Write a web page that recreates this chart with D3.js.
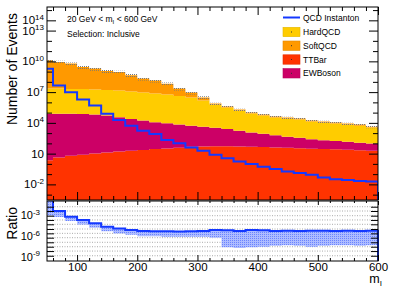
<!DOCTYPE html>
<html>
<head>
<meta charset="utf-8">
<script src="https://cdn.jsdelivr.net/npm/d3@7/dist/d3.min.js"></script>
<style>
body { margin: 0; background: #fff; }
svg text { font-family: "Liberation Sans", Arial, Helvetica, sans-serif; fill: #000; }
</style>
</head>
<body>
<svg width="398" height="287"></svg>
<script>
// 20 GeV bins, lower edges (axis starts at 50 so first bin is cut)
var binLow = [40,60,80,100,120,140,160,180,200,220,240,260,280,300,320,340,360,380,400,420,440,460,480,500,520,540,560,580];
var binWidth = 20;

var ttbar = [2.3,4.2,6.2,7.8,10.5,12.9,16.2,19,22.4,28,32,37,47,50,52,52,50,47,44,40,37,33,30,28,26,24,21,19];
var ewboson = [75900,75900,75900,72400,64600,51300,35500,24500,16600,11200,9120,6760,5320,4220,3340,2520,1690,1130,847,591,410,322,227,176,144,121,94,79];
var hardqcd = [2.28e7,2.28e7,2.03e7,2.03e7,1.81e7,1.62e7,1.45e7,1.15e7,9.33e6,7.41e6,5.89e6,4.17e6,3.02e6,1.51e6,6.14e5,3.14e5,1.57e5,8.01e4,5.04e4,3.25e4,2.59e4,2.05e4,1.32e4,1.05e4,8340,6620,5260,3370];
var softqcd = [1.26e10,8.71e9,6.03e9,2.82e9,1.95e9,1.15e9,9.12e8,4.27e8,2.04e8,1.31e8,6.0e7,1.87e7,6.3e6,1.5e6,1.59e5,7.3e4,4.1e4,2.1e4,1.33e4,7600,6800,5400,3100,2800,2200,1750,1390,800];
var instanton = [1.95e9,4.47e7,9.77e6,1.91e6,4.9e5,7.59e4,1.95e4,5370,1740,832,214,100,39.8,19.1,7.76,3.63,1.70,0.955,0.513,0.309,0.178,0.126,0.0851,0.0457,0.0324,0.0275,0.0219,0.0186];
var bkgRelErr = [0.3,0.3,0.3,0.3,0.3,0.3,0.3,0.3,0.3,0.3,0.3,0.3,0.3,0.3,0.2,0.2,0.2,0.2,0.2,0.2,0.2,0.2,0.2,0.2,0.2,0.2,0.2,0.2];

// ratio panel: instanton / background and lower edge of its band
var ratio = [0.16,4.6e-3,6.6e-4,2.2e-4,7.2e-5,2.3e-5,1.35e-5,7.6e-6,5.4e-6,5.0e-6,5.0e-6,4.8e-6,5.0e-6,5.6e-6,7.9e-6,7.1e-6,5.6e-6,7.9e-6,7.1e-6,5.6e-6,6.3e-6,5.6e-6,6.3e-6,6.3e-6,5.6e-6,6.3e-6,5.6e-6,6.3e-6];
var ratioLow = [1e-3,6e-4,1.6e-4,5e-5,1.6e-5,5e-6,2.5e-6,1.6e-6,1e-6,1e-6,8e-7,8e-7,8e-7,8e-7,6e-7,2.5e-8,2e-8,2.5e-8,3e-8,4e-8,5e-8,4e-8,3e-8,4e-8,5e-8,5e-8,4e-8,5e-8];

var xMajor = [100,200,300,400,500,600];
var yLabelExp = [-2,1,4,7,10,13,14];
var ratioLabelExp = [-9,-6,-3];
var ratioGridExp = [-1.73,-2.35,-3.03,-3.65,-4.28,-4.96,-5.59,-6.22,-6.89,-7.53,-8.16,-8.84];

var stackKeys = ["TTBar","EWBoson","HardQCD","SoftQCD"];
var legendNames = ["HardQCD","SoftQCD","TTBar","EWBoson"];
var colors = {HardQCD:"#ffcc00", SoftQCD:"#ff9900", TTBar:"#ff3300", EWBoson:"#cc0066"};
var blue = "#1438ff";

var left = 47, right = 378, top1 = 7, bot1 = 200, top2 = 201, bot2 = 261;
var svg = d3.select("svg");

var x = d3.scaleLinear().domain([50, 600]).range([left, right]);
var y = d3.scaleLog().domain([3e-4, 2e15]).range([bot1, top1]);
var yr = d3.scaleLog().domain([Math.pow(10,-9.6), Math.pow(10,-0.9)]).range([bot2, top2]);

var defs = svg.append("defs");
defs.append("clipPath").attr("id","clipTop").append("rect")
	.attr("x",left).attr("y",top1).attr("width",right-left).attr("height",bot1-top1);
defs.append("clipPath").attr("id","clipRatio").append("rect")
	.attr("x",left).attr("y",top2).attr("width",right-left+1).attr("height",bot2-top2);
var hatch = defs.append("pattern").attr("id","hatch")
	.attr("patternUnits","userSpaceOnUse").attr("width",2).attr("height",2);
hatch.append("rect").attr("width",1).attr("height",1).attr("fill","#777");
var bandPat = defs.append("pattern").attr("id","bandPat")
	.attr("patternUnits","userSpaceOnUse").attr("width",2).attr("height",2);
bandPat.append("rect").attr("width",2).attr("height",2).attr("fill","#aebcff");
bandPat.append("rect").attr("width",1).attr("height",1).attr("fill","#6a84ff");

function steps(vals, lo) {
	var pts = [];
	vals.forEach(function(v, i) {
		var l = lo ? lo[i] : 1e-30;
		pts.push({x: binLow[i], v: v, l: l});
		pts.push({x: binLow[i] + binWidth, v: v, l: l});
	});
	return pts;
}
function yc(v) { return y(Math.max(v, 1e-5)); }
function yrc(v) { return yr(Math.max(v, 1e-12)); }

// ---- top panel
var rows = binLow.map(function(b, i) {
	return {TTBar: ttbar[i], EWBoson: ewboson[i], HardQCD: hardqcd[i], SoftQCD: softqcd[i]};
});
var layers = d3.stack().keys(stackKeys)(rows);

var gTop = svg.append("g").attr("clip-path","url(#clipTop)");
var area = d3.area()
	.x(function(d) { return x(d.x); })
	.y0(function(d) { return yc(d.l); })
	.y1(function(d) { return yc(d.v); });

layers.forEach(function(layer) {
	var pts = [];
	layer.forEach(function(d, i) {
		pts.push({x: binLow[i], l: d[0], v: d[1]});
		pts.push({x: binLow[i] + binWidth, l: d[0], v: d[1]});
	});
	gTop.append("path").attr("d", area(pts)).attr("fill", colors[layer.key]).attr("stroke","none");
});

var total = rows.map(function(r) { return r.TTBar + r.EWBoson + r.HardQCD + r.SoftQCD; });
var errPts = [];
total.forEach(function(t, i) {
	var lo = t / (1 + bkgRelErr[i] * 2), hi = t * (1 + bkgRelErr[i]);
	errPts.push({x: binLow[i], l: lo, v: hi});
	errPts.push({x: binLow[i] + binWidth, l: lo, v: hi});
});
gTop.append("path").attr("d", area(errPts)).attr("fill","url(#hatch)");

var line = d3.line().x(function(d) { return x(d.x); }).y(function(d) { return yc(d.v); });
var instPts = steps(instanton);
instPts.push({x: 600, v: 1e-6});
gTop.append("path").attr("d", line(instPts))
	.attr("fill","none").attr("stroke", blue).attr("stroke-width", 2);

// ---- ratio panel
var gRat = svg.append("g");
ratioGridExp.forEach(function(e) {
	gRat.append("line")
		.attr("x1", left).attr("x2", right)
		.attr("y1", yr(Math.pow(10, e))).attr("y2", yr(Math.pow(10, e)))
		.attr("stroke","#aaa").attr("stroke-width",1).attr("stroke-dasharray","1,1.5");
});
var gRatClip = svg.append("g").attr("clip-path","url(#clipRatio)");
var rArea = d3.area()
	.x(function(d) { return x(d.x); })
	.y0(function(d) { return yrc(d.l); })
	.y1(function(d) { return yrc(d.v); });
gRatClip.append("path").attr("d", rArea(steps(ratio, ratioLow))).attr("fill","url(#bandPat)");
var rLine = d3.line().x(function(d) { return x(d.x); }).y(function(d) { return yrc(d.v); });
var rPts = steps(ratio);
rPts.push({x: 600, v: 1e-12});
gRatClip.append("path").attr("d", rLine(rPts))
	.attr("fill","none").attr("stroke", blue).attr("stroke-width", 2);

// ---- frames
svg.append("rect").attr("x",left).attr("y",top1).attr("width",right-left).attr("height",bot1-top1)
	.attr("fill","none").attr("stroke","#000").attr("stroke-width",1);
svg.append("rect").attr("x",left).attr("y",top2).attr("width",right-left).attr("height",bot2-top2)
	.attr("fill","none").attr("stroke","#000").attr("stroke-width",1);

// ---- ticks
var xMinor = d3.range(60, 600, 20).filter(function(v) { return v % 100 != 0; });
function tickAxis(axis, tx, ty) {
	var g = svg.append("g").attr("transform","translate(" + tx + "," + ty + ")").call(axis);
	g.select(".domain").remove();
	g.selectAll("text").remove();
	g.selectAll("line").attr("stroke","#000");
	return g;
}
tickAxis(d3.axisTop(x).tickValues(xMajor).tickSize(-8), 0, top1);
tickAxis(d3.axisTop(x).tickValues(xMinor).tickSize(-4), 0, top1);
tickAxis(d3.axisBottom(x).tickValues(xMajor).tickSize(-8), 0, bot1);
tickAxis(d3.axisBottom(x).tickValues(xMinor).tickSize(-4), 0, bot1);
tickAxis(d3.axisTop(x).tickValues(xMajor).tickSize(-4), 0, top2);
tickAxis(d3.axisTop(x).tickValues(xMinor).tickSize(-2), 0, top2);
tickAxis(d3.axisBottom(x).tickValues(xMinor).tickSize(-3), 0, bot2);

var xLab = svg.append("g").attr("transform","translate(0," + bot2 + ")")
	.call(d3.axisBottom(x).tickValues(xMajor).tickSize(-6).tickPadding(2));
xLab.select(".domain").remove();
xLab.selectAll("line").attr("stroke","#000");
xLab.selectAll("text").style("font-size","11.5px").attr("font-family", null);

var decades = d3.range(-3, 16).map(function(e) { return Math.pow(10, e); });
var yMajor = yLabelExp.map(function(e) { return Math.pow(10, e); });
var yMinor = decades.filter(function(v) { return yMajor.indexOf(v) < 0; });
tickAxis(d3.axisLeft(y).tickValues(yMajor).tickSize(-9), left, 0);
tickAxis(d3.axisLeft(y).tickValues(yMinor).tickSize(-5), left, 0);
tickAxis(d3.axisRight(y).tickValues(yMajor).tickSize(-9), right, 0);
tickAxis(d3.axisRight(y).tickValues(yMinor).tickSize(-5), right, 0);
var rTicks = ratioGridExp.map(function(e) { return Math.pow(10, e); });
tickAxis(d3.axisLeft(yr).tickValues(rTicks).tickSize(-7), left, 0);
tickAxis(d3.axisRight(yr).tickValues(rTicks).tickSize(-7), right, 0);

// ---- tick labels with exponents
function powLabel(xx, yy, e, size, supSize) {
	var t = svg.append("text").attr("x", xx).attr("y", yy).attr("text-anchor","end")
		.style("font-size", size + "px");
	t.append("tspan").text("10");
	if (e != 1) {
		t.append("tspan").attr("dy", -size * 0.42).style("font-size", supSize + "px").text(e);
	}
}
yLabelExp.forEach(function(e) {
	powLabel(44, y(Math.pow(10, e)) + 4, e, 11.5, 8);
});
ratioLabelExp.forEach(function(e) {
	powLabel(40, yr(Math.pow(10, e)) + 4, e, 11, 8);
});

// ---- axis titles
svg.append("text").attr("transform","translate(17,13) rotate(-90)")
	.attr("text-anchor","end").style("font-size","14px").text("Number of Events");
svg.append("text").attr("transform","translate(17,207) rotate(-90)")
	.attr("text-anchor","end").style("font-size","14px").text("Ratio");
var xt = svg.append("text").attr("x", 382).attr("y", 283).attr("text-anchor","end").style("font-size","12.5px");
xt.append("tspan").text("m");
xt.append("tspan").attr("dy", 3).style("font-size","8px").text("I");

// ---- labels
var lab1 = svg.append("text").attr("x", 67).attr("y", 22).style("font-size","8.5px");
lab1.append("tspan").text("20 GeV < m");
lab1.append("tspan").attr("dy", 2).style("font-size","6px").text("I");
lab1.append("tspan").attr("dy", -2).text(" < 600 GeV");
svg.append("text").attr("x", 67).attr("y", 37).style("font-size","8.5px").text("Selection: Inclusive");

// ---- legend
var leg = svg.append("g");
leg.append("line").attr("x1", 283).attr("x2", 300).attr("y1", 17.5).attr("y2", 17.5)
	.attr("stroke", blue).attr("stroke-width", 2);
leg.append("text").attr("x", 303).attr("y", 20.5).style("font-size","8.5px").text("QCD Instanton");
var legY = [32, 45.7, 59.5, 73.3];
legendNames.forEach(function(n, i) {
	leg.append("rect").attr("x", 283).attr("y", legY[i] - 4.7).attr("width", 17).attr("height", 9.4)
		.attr("fill", colors[n]).attr("stroke", d3.color(colors[n]).darker(0.3)).attr("stroke-width", 0.6);
	leg.append("rect").attr("x", 291).attr("y", legY[i] - 0.5).attr("width", 1).attr("height", 1).attr("fill", "#333");
	leg.append("text").attr("x", 303).attr("y", legY[i] + 3).style("font-size","8.5px").text(n);
});
</script>
</body>
</html>
